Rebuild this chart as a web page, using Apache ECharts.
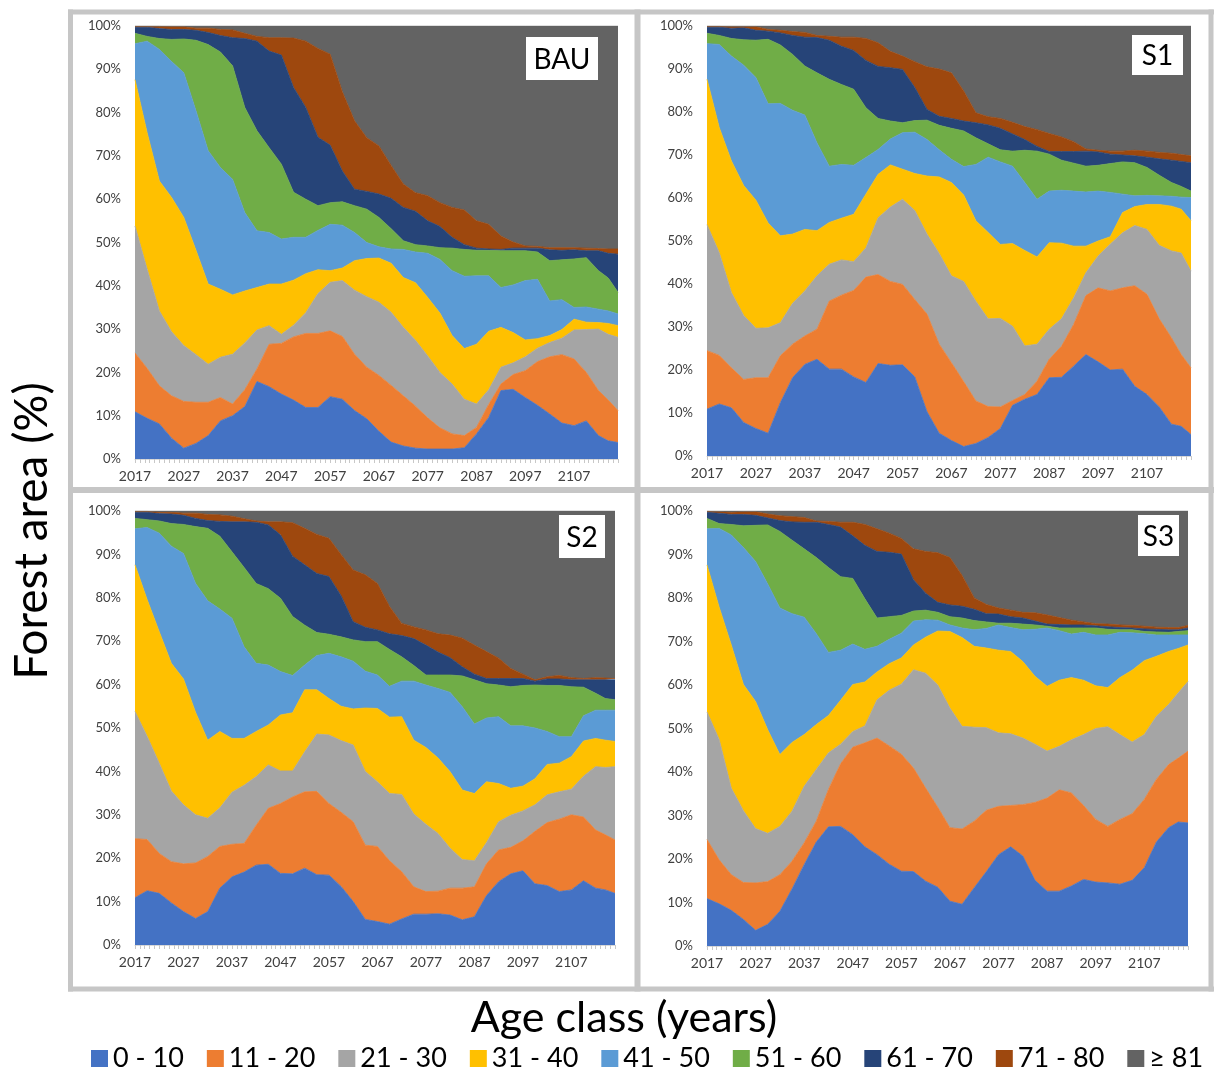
<!DOCTYPE html>
<html><head><meta charset="utf-8">
<script src="https://cdn.jsdelivr.net/npm/echarts@6/dist/echarts.min.js"></script>
<style>html,body{margin:0;padding:0;background:#fff}#c{width:1214px;height:1072px}</style>
</head><body><div id="c"></div>
<script>
// sample positions (every 2.5 years, last = 2116)
const years = [2017,2019.5,2022,2024.5,2027,2029.5,2032,2034.5,2037,2039.5,2042,2044.5,2047,2049.5,2052,2054.5,2057,2059.5,2062,2064.5,2067,2069.5,2072,2074.5,2077,2079.5,2082,2084.5,2087,2089.5,2092,2094.5,2097,2099.5,2102,2104.5,2107,2109.5,2112,2114,2116];
const ageClasses = ['0 - 10','11 - 20','21 - 30','31 - 40','41 - 50','51 - 60','61 - 70','71 - 80','\u2265 81'];
const xTickLabels = [2017,2027,2037,2047,2057,2067,2077,2087,2097,2107];
const yTickLabels = ['0%','10%','20%','30%','40%','50%','60%','70%','80%','90%','100%'];

// BAU (% of forest area)
const BAU_0_10  = [10.9,9.4,8.1,4.8,2.5,3.6,5.4,8.8,10.0,12.1,17.9,16.7,15.0,13.6,11.9,11.9,14.4,13.8,11.2,9.3,6.4,3.9,3.0,2.5,2.3,2.3,2.3,2.6,5.8,9.6,15.8,16.1,14.2,12.4,10.4,8.3,7.7,8.8,5.4,4.2,3.8];
const BAU_11_20 = [13.6,11.5,8.8,9.8,10.8,9.5,7.7,5.4,2.7,3.9,2.9,9.8,11.7,14.6,17.1,17.1,15.2,14.5,13.0,11.9,12.9,13.1,11.6,9.7,7.2,4.9,3.5,2.8,1.5,3.0,1.5,3.4,6.2,10.1,13.2,15.8,15.4,11.2,10.4,9.4,7.4];
const BAU_21_30 = [29.3,22.9,17.3,14.8,12.9,11.0,8.8,9.3,11.5,10.8,9.0,4.3,2.1,2.7,4.8,9.2,11.2,12.9,14.8,16.3,16.9,16.9,15.8,15.2,14.3,12.8,11.5,8.4,5.4,3.4,3.9,2.7,3.2,3.1,3.3,3.8,6.7,9.9,14.2,15.2,16.9];
const BAU_31_40 = [33.8,31.5,30.0,31.0,29.6,24.1,18.5,15.7,13.7,12.0,9.8,9.6,11.6,10.4,9.0,5.5,2.7,2.9,6.8,8.8,10.2,11.3,11.5,13.3,13.5,13.7,11.2,11.7,13.8,13.5,9.2,7.0,3.9,2.2,1.6,2.0,2.5,1.7,1.5,2.5,2.7];
const BAU_41_50 = [8.3,21.2,30.4,31.4,33.4,32.2,30.8,28.1,26.7,18.1,13.1,11.9,10.4,9.9,8.4,9.1,10.7,9.9,6.5,3.7,2.6,3.3,6.5,7.1,10.2,12.4,15.0,16.7,15.8,12.8,9.2,11.0,13.7,13.7,8.0,6.9,2.7,3.5,3.1,2.9,2.7];
const BAU_51_60 = [2.4,1.1,2.5,5.1,7.8,16.3,24.5,26.7,26.2,24.3,23.1,19.6,17.3,10.4,8.8,5.7,5.0,5.4,6.2,7.7,6.8,4.7,2.0,1.7,1.7,2.7,5.2,6.2,5.9,5.9,8.5,7.9,6.9,6.3,9.3,9.2,11.2,11.4,8.9,7.6,5.0];
const BAU_61_70 = [1.4,2.1,2.3,2.3,2.2,2.3,2.8,3.8,6.5,15.9,20.7,22.3,25.2,24.2,21.2,15.8,13.3,7.1,3.8,4.1,5.4,7.0,7.7,7.7,5.8,4.9,2.5,1.1,0.5,0.3,0.3,0.6,0.6,0.9,2.5,2.2,2.1,1.6,4.6,5.7,8.8];
const BAU_71_80 = [0.2,0.2,0.5,0.6,0.6,0.5,1.0,1.4,1.8,1.2,1.1,3.1,4.0,11.4,15.3,20.5,21.0,18.3,15.8,12.4,11.1,7.6,5.4,4.3,5.8,5.5,6.9,8.0,6.3,5.7,3.1,1.4,0.5,0.4,0.5,0.6,0.5,0.6,0.5,1.0,1.2];
const BAU_81    = [0.1,0.1,0.1,0.2,0.2,0.5,0.5,0.8,0.9,1.7,2.4,2.7,2.7,2.8,3.5,5.2,6.5,15.2,21.9,25.8,27.7,32.2,36.5,38.5,39.2,40.8,41.9,42.5,45.0,45.8,48.5,49.9,50.8,50.9,51.2,51.2,51.2,51.3,51.4,51.5,51.5];

// S1
const S1_0_10  = [10.9,12.1,11.2,7.8,6.4,5.3,12.4,18.2,21.3,22.5,20.2,20.2,18.4,17.1,21.5,21.1,21.2,18.4,10.3,5.3,3.6,2.2,2.9,4.3,6.4,11.8,13.2,14.3,18.2,18.3,20.9,23.6,21.9,20.0,20.2,16.2,14.3,11.4,7.4,6.9,5.0];
const S1_11_20 = [13.6,11.3,9.3,10.0,11.8,12.9,10.9,7.8,6.6,7.0,15.8,17.2,20.1,24.5,20.7,19.5,18.7,18.0,22.7,20.7,18.1,15.1,9.9,7.2,5.0,1.1,1.1,3.1,4.3,7.2,9.7,13.7,17.2,18.4,18.9,23.4,23.3,20.5,20.1,16.7,15.5];
const S1_21_30 = [29.3,23.9,17.5,14.9,11.5,11.6,7.7,9.5,10.5,12.4,8.6,8.2,6.7,6.8,13.2,17.3,19.8,20.7,18.6,21.1,20.2,23.3,23.2,20.4,20.6,17.3,11.3,8.6,7.0,6.4,6.2,5.3,7.4,10.9,12.8,14.0,15.1,17.1,20.2,23.6,22.5];
const S1_31_40 = [33.8,29.1,30.6,30.2,29.8,24.4,20.2,16.1,14.3,10.5,9.7,9.7,11.0,12.5,10.1,9.8,7.0,8.6,13.5,17.8,21.7,20.1,18.7,20.1,17.2,19.2,22.2,20.3,20.1,17.6,12.0,6.2,3.5,1.7,4.7,4.4,5.8,9.5,10.4,10.2,11.7];
const S1_41_50 = [8.3,19.3,24.4,28.0,28.5,27.7,30.8,28.8,26.6,20.4,13.1,12.5,11.4,8.5,5.8,6.0,8.5,9.6,8.5,6.3,5.4,6.6,13.1,17.5,19.2,18.0,15.8,13.4,12.0,12.3,12.8,12.6,11.6,10.3,4.3,2.5,2.1,2.0,2.3,2.8,5.4];
const S1_51_60 = [2.4,2.1,4.1,5.9,8.7,15.0,13.6,13.0,11.4,16.3,20.2,18.6,17.7,11.6,7.2,4.2,2.3,2.7,4.5,5.7,7.2,8.3,6.2,3.1,2.8,3.5,7.5,11.2,8.6,7.0,6.5,6.0,6.0,6.7,7.5,7.7,6.5,4.8,3.2,2.5,1.5];
const S1_61_70 = [1.4,1.9,2.4,2.8,2.3,1.9,2.8,4.4,6.7,8.2,9.1,8.9,9.0,11.0,12.1,12.4,12.4,7.7,2.5,2.1,2.3,2.3,3.5,4.4,5.0,4.0,2.5,1.1,0.6,2.0,2.7,3.5,3.1,2.2,1.6,1.6,2.4,3.8,5.2,5.8,6.6];
const S1_71_80 = [0.2,0.2,0.3,0.2,0.8,0.4,0.6,0.9,1.1,0.5,0.9,2.1,3.1,5.1,5.5,3.8,3.1,6.0,9.9,11.0,10.6,7.0,2.3,1.9,2.3,2.7,3.0,3.9,4.2,3.4,2.3,0.5,0.4,0.7,0.9,1.3,1.4,1.5,1.6,1.6,1.6];
const S1_81    = [0.1,0.1,0.2,0.2,0.2,0.8,1.0,1.3,1.5,2.2,2.4,2.6,2.6,2.9,3.9,5.9,7.0,8.3,9.5,10.0,10.9,15.1,20.2,21.1,21.5,22.4,23.4,24.1,25.0,25.8,26.9,28.6,28.9,29.1,29.1,28.9,29.1,29.4,29.6,29.9,30.2];

// S2
const S2_0_10  = [10.9,12.5,11.9,9.7,7.7,6.1,7.7,13.1,15.7,16.8,18.4,18.6,16.5,16.4,17.7,16.2,16.1,13.5,10.0,5.9,5.4,4.8,6.0,7.1,7.1,7.2,6.9,5.8,6.5,11.4,14.6,16.4,17.1,14.1,13.7,12.3,12.7,14.8,13.1,12.7,11.9];
const S2_11_20 = [13.6,11.8,9.2,9.5,11.0,12.8,12.7,9.6,7.5,6.6,9.2,12.9,16.1,17.7,17.6,19.2,16.5,17.1,18.4,17.1,17.3,14.6,10.9,6.3,5.2,5.2,6.2,7.3,6.9,7.3,7.3,6.1,6.9,12.1,14.5,16.7,17.3,14.7,13.4,12.7,12.3];
const S2_21_30 = [29.3,23.8,20.8,16.3,13.6,11.1,8.8,8.9,12.0,13.4,11.2,10.0,7.5,6.0,9.2,13.2,15.8,16.5,17.7,17.0,14.9,15.5,17.8,16.8,15.5,13.3,9.2,6.6,6.0,4.9,6.5,7.4,6.9,6.1,6.4,6.3,5.9,9.4,14.6,15.5,16.9];
const S2_31_40 = [33.8,31.5,30.3,29.4,29.0,23.6,18.0,17.6,12.4,10.8,10.4,9.2,12.9,13.4,14.3,10.2,8.4,7.9,8.3,14.6,16.9,17.6,17.9,17.0,17.7,17.4,17.6,16.0,15.5,14.0,8.8,6.2,5.7,6.0,7.0,6.6,7.5,8.1,6.5,6.3,5.8];
const S2_41_50 = [8.3,16.6,22.7,27.0,28.9,29.7,32.1,28.2,27.7,21.1,15.7,13.8,10.0,8.6,5.7,7.9,10.4,11.4,11.0,8.5,7.7,7.1,8.2,13.6,14.4,16.0,18.3,19.2,16.0,14.7,15.4,14.4,13.9,11.7,7.6,6.1,4.6,5.8,6.5,6.9,7.2];
const S2_51_60 = [2.4,1.8,2.8,5.2,6.7,13.1,16.7,16.8,15.3,18.3,18.4,17.6,16.9,13.6,9.2,5.3,4.4,4.6,4.9,6.8,7.7,8.5,5.6,3.6,2.3,3.1,4.0,7.1,10.2,7.9,7.3,9.0,9.3,9.9,10.6,11.8,11.5,6.6,3.9,2.7,2.4];
const S2_61_70 = [1.4,1.7,1.7,2.2,2.1,1.9,1.8,3.4,6.9,10.5,14.1,14.7,14.6,13.9,13.9,13.6,13.3,9.5,4.2,3.3,2.7,3.6,4.9,6.2,6.9,5.3,4.0,2.1,1.3,1.2,1.5,1.9,1.6,0.9,1.5,1.5,1.6,1.7,3.1,4.3,4.6];
const S2_71_80 = [0.2,0.2,0.3,0.4,0.5,1.2,1.4,1.5,1.3,0.7,0.3,0.7,3.0,7.7,8.4,9.0,8.8,9.5,11.9,12.1,10.7,6.3,2.8,2.7,3.5,4.2,5.2,6.6,6.7,6.2,4.7,2.3,1.0,0.3,0.5,0.8,0.5,0.3,0.5,0.4,0.3];
const S2_81    = [0.1,0.1,0.3,0.3,0.5,0.5,0.8,0.9,1.2,1.8,2.3,2.5,2.5,2.7,4.0,5.4,6.3,10.0,13.6,14.7,16.7,22.0,25.9,26.7,27.4,28.3,28.6,29.3,30.9,32.4,33.9,36.3,37.6,38.9,38.2,37.9,38.4,38.6,38.4,38.5,38.6];

// S3
const S3_0_10  = [10.9,9.7,8.2,6.1,3.6,5.0,8.0,13.1,18.7,23.9,27.4,27.5,25.6,22.8,21.0,18.8,17.2,17.1,14.9,13.5,10.3,9.6,13.4,17.1,21.0,22.8,20.7,15.1,12.6,12.6,13.8,15.3,14.7,14.5,14.2,15.1,18.0,23.9,27.2,28.5,28.3];
const S3_11_20 = [13.6,10.1,8.2,8.5,10.9,9.8,8.4,6.4,5.0,4.8,8.6,14.4,20.1,23.9,26.8,27.2,26.9,23.8,21.4,18.4,16.9,17.3,15.3,14.1,11.1,9.5,11.8,17.9,21.4,23.3,21.4,17.0,14.4,13.0,14.9,15.3,15.7,14.4,14.5,14.7,16.5];
const S3_21_30 = [29.3,27.7,19.9,16.5,12.5,11.1,11.1,11.5,13.0,11.9,8.4,4.5,3.6,3.9,8.8,12.8,16.1,22.6,26.4,28.1,27.5,23.6,21.6,19.0,16.9,16.5,15.3,13.4,10.8,10.0,12.2,16.3,20.9,22.9,19.5,16.5,14.9,14.5,13.8,15.0,16.0];
const S3_31_40 = [33.8,30.4,32.9,29.0,29.2,23.8,16.5,15.8,11.9,10.3,8.6,10.1,10.8,10.1,6.4,6.1,6.0,5.7,8.3,12.4,17.6,20.4,18.6,18.3,19.0,18.9,17.6,15.6,14.9,15.2,14.3,12.5,9.8,9.0,13.1,16.5,17.0,13.8,12.2,10.2,8.4];
const S3_41_50 = [8.3,18.1,25.3,31.5,32.2,33.5,33.7,29.6,27.0,20.9,14.5,11.5,9.3,7.5,5.9,5.6,5.7,5.5,4.0,2.5,1.5,2.2,3.8,4.5,5.8,5.5,7.3,10.8,13.4,11.4,10.0,11.0,11.7,12.1,10.4,8.6,6.2,4.9,3.8,3.1,2.3];
const S3_51_60 = [2.4,1.1,2.4,5.0,8.3,13.6,17.6,16.9,15.7,17.5,19.5,16.9,15.1,11.6,6.5,5.2,4.1,2.3,2.2,1.8,1.9,2.3,2.1,1.5,0.4,1.0,1.3,1.0,0.4,0.6,1.4,1.0,1.6,1.3,0.6,0.7,0.5,0.7,0.6,0.8,1.0];
const S3_61_70 = [1.4,2.4,2.3,2.6,2.3,1.6,2.5,4.2,6.1,8.1,9.9,11.4,9.8,12.3,15.3,14.8,14.1,7.2,3.9,2.3,2.7,2.7,2.6,1.9,2.1,1.5,1.4,0.9,0.5,0.8,0.7,0.7,0.5,0.6,0.5,0.4,0.6,0.6,0.6,0.4,0.6];
const S3_71_80 = [0.2,0.3,0.5,0.6,0.8,0.9,1.1,1.2,1.1,0.3,0.7,1.1,3.1,4.8,5.2,4.4,3.6,7.1,9.6,11.4,10.9,7.1,2.6,2.1,1.4,1.5,1.3,1.9,2.1,1.6,1.1,0.7,0.5,0.6,0.6,0.6,0.6,0.5,0.5,0.5,0.6];
const S3_81    = [0.1,0.2,0.3,0.2,0.2,0.7,1.1,1.3,1.5,2.3,2.4,2.6,2.6,3.1,4.1,5.1,6.3,8.7,9.3,9.6,10.7,14.8,20.0,21.5,22.3,22.8,23.3,23.4,23.9,24.5,25.1,25.5,25.9,26.0,26.2,26.3,26.5,26.7,26.8,26.8,26.3];

const panelNames = ['BAU','S1','S2','S3'];
const panelData = [
  [BAU_0_10,BAU_11_20,BAU_21_30,BAU_31_40,BAU_41_50,BAU_51_60,BAU_61_70,BAU_71_80,BAU_81],
  [S1_0_10,S1_11_20,S1_21_30,S1_31_40,S1_41_50,S1_51_60,S1_61_70,S1_71_80,S1_81],
  [S2_0_10,S2_11_20,S2_21_30,S2_31_40,S2_41_50,S2_51_60,S2_61_70,S2_71_80,S2_81],
  [S3_0_10,S3_11_20,S3_21_30,S3_31_40,S3_41_50,S3_51_60,S3_61_70,S3_71_80,S3_81]
];

const colors = ['#4472C4','#ED7D31','#A5A5A5','#FFC000','#5B9BD5','#70AD47','#264478','#9E480E','#636363'];
const FONT = 'Lato, "Open Sans", sans-serif';
const grids = [
  {left:135, top:26, width:483, height:433},
  {left:707, top:26, width:484, height:430},
  {left:135, top:511, width:480, height:434},
  {left:707, top:511, width:481, height:435}
];
const labelBoxes = [
  {x:526, y:37, w:72, h:43},
  {x:1132, y:35, w:51, h:40},
  {x:559, y:515, w:46, h:43},
  {x:1138, y:515, w:41, h:41}
];

const xAxes = [], yAxes = [], series = [];
grids.forEach((g, p) => {
  xAxes.push({
    type:'value', gridIndex:p, min:0, max:years[years.length-1]-years[0], interval:10,
    axisLine:{show:true, lineStyle:{color:'#d9d9d9', width:1}},
    axisTick:{show:true, length:4, lineStyle:{color:'#c8c8c8'}},
    minorTick:{show:true, splitNumber:10, length:4, lineStyle:{color:'#c8c8c8'}},
    splitLine:{show:false},
    axisLabel:{showMaxLabel:false, margin:10, fontSize:14, color:'#404040', fontFamily:FONT,
      formatter: v => { const y = years[0] + v; return xTickLabels.indexOf(y) >= 0 ? String(y) : ''; }}
  });
  yAxes.push({
    type:'value', gridIndex:p, min:0, max:100, interval:10,
    axisLine:{show:false}, axisTick:{show:false}, splitLine:{show:false},
    axisLabel:{margin:14, fontSize:13, color:'#404040', fontFamily:FONT,
      formatter: v => yTickLabels[Math.round(v/10)]}
  });
  panelData[p].forEach((arr, k) => {
    series.push({
      name: ageClasses[k], type:'line', xAxisIndex:p, yAxisIndex:p, stack:'panel'+p,
      // value first so the library stacks the percentage dimension (by index)
      dimensions:['share','offset'], encode:{x:'offset', y:'share'},
      symbol:'none', showSymbol:false, silent:true, animation:false,
      lineStyle:{width:0.8, color:colors[k]},
      itemStyle:{color:colors[k]},
      areaStyle:{color:colors[k], opacity:1},
      data: years.map((y, i) => [arr[i], y - years[0]])
    });
  });
});

const border = '#c6c6c6';
const graphics = [
  {type:'line', shape:{x1:68, y1:12, x2:1214, y2:12}, style:{stroke:border, lineWidth:5}},
  {type:'line', shape:{x1:68, y1:490, x2:1214, y2:490}, style:{stroke:border, lineWidth:6}},
  {type:'line', shape:{x1:68, y1:989, x2:1214, y2:989}, style:{stroke:border, lineWidth:5}},
  {type:'line', shape:{x1:70.5, y1:9.5, x2:70.5, y2:991.5}, style:{stroke:border, lineWidth:5}},
  {type:'line', shape:{x1:637.5, y1:9.5, x2:637.5, y2:991.5}, style:{stroke:border, lineWidth:6}},
  {type:'line', shape:{x1:1211, y1:9.5, x2:1211, y2:991.5}, style:{stroke:border, lineWidth:5}},
  {type:'text', x:624, y:1018, style:{text:'Age class (years)', font:'43px '+FONT, fill:'#000', align:'center', verticalAlign:'middle'}},
  {type:'text', x:32, y:531, rotation:Math.PI/2, style:{text:'Forest area (%)', font:'46px '+FONT, fill:'#000', align:'center', verticalAlign:'middle'}}
];
labelBoxes.forEach((b, p) => {
  graphics.push({type:'rect', shape:{x:b.x, y:b.y, width:b.w, height:b.h}, style:{fill:'#fff'}, z:10});
  graphics.push({type:'text', x:b.x + b.w/2, y:b.y + b.h/2 + 1, z:11,
    style:{text:panelNames[p], font:'28px '+FONT, fill:'#000', align:'center', verticalAlign:'middle'}});
});

const chart = echarts.init(document.getElementById('c'), null, {renderer:'canvas'});
chart.setOption({
  backgroundColor:'#fff',
  animation:false,
  color: colors,
  grid: grids,
  xAxis: xAxes,
  yAxis: yAxes,
  series: series,
  legend: {
    data: ageClasses, left:86, top:1040, icon:'rect', itemWidth:17, itemHeight:17, itemGap:23,
    selectedMode:false,
    textStyle:{fontSize:27, color:'#000', fontFamily:FONT}
  },
  graphic: graphics
});
</script>
</body></html>
